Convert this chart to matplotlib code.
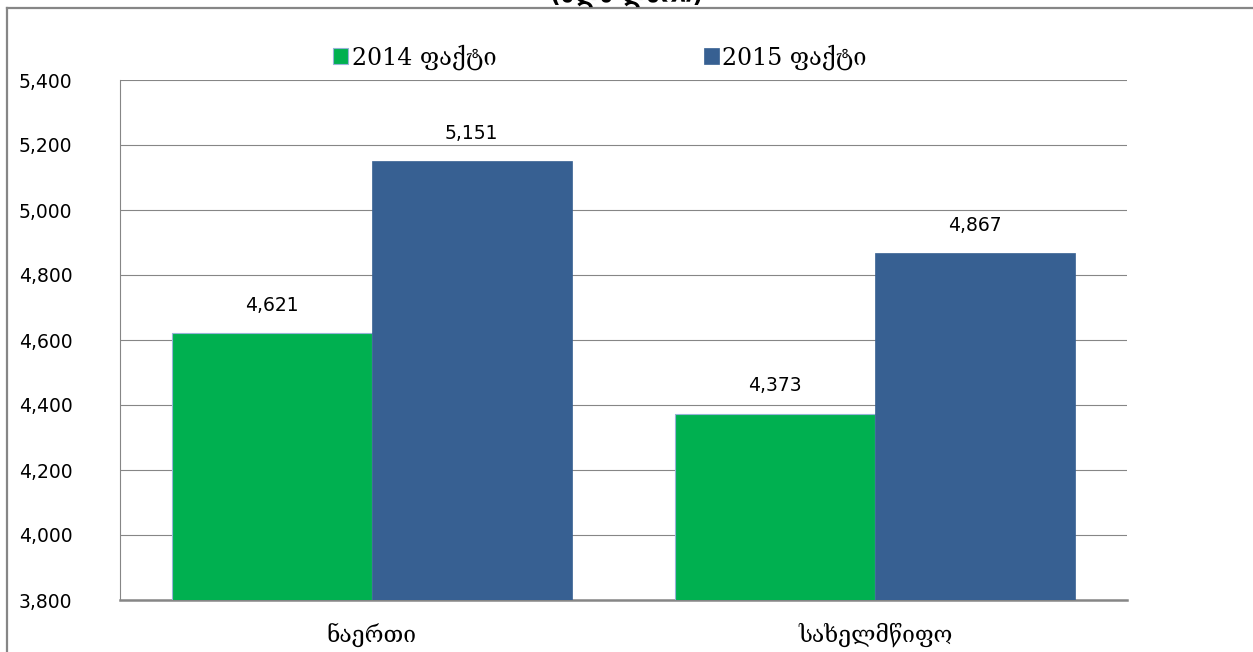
import matplotlib
matplotlib.use("Agg")
import matplotlib.pyplot as plt
from matplotlib.lines import Line2D
import numpy as np

categories = ["ნაერთი", "სახელმწიფო"]
series_names = ["2014 ფაქტი", "2015 ფაქტი"]
values_2014 = [4621, 4373]
values_2015 = [5151, 4867]
yticks = [3800, 4000, 4200, 4400, 4600, 4800, 5000, 5200, 5400]
title = "(მლნ ლარი)"

green = "#00B050"
blue = "#376092"
gray = "#868686"

W, H = 1253, 652
fig = plt.figure(figsize=(W / 100, H / 100), dpi=100)
ax = fig.add_axes([120 / W, 1 - 600 / H, (1127 - 120) / W, (600 - 80) / H])

x = np.arange(len(categories))
bw = 0.397
b1 = ax.bar(x - bw / 2, values_2014, bw, color=green, edgecolor="#95B3D7", linewidth=0.8,
            label=series_names[0], zorder=3)
b2 = ax.bar(x + bw / 2, values_2015, bw, color=blue, edgecolor=blue, linewidth=0.5,
            label=series_names[1], zorder=3)

for bars, vals in ((b1, values_2014), (b2, values_2015)):
    for r, v in zip(bars, vals):
        ax.annotate(f"{v:,}", (r.get_x() + r.get_width() / 2, v), xytext=(0, 20),
                    textcoords="offset points", ha="center", va="center",
                    fontsize=13.5, family="DejaVu Sans", color="black")

ax.set_xlim(-0.5, 1.5)
ax.set_ylim(3800, 5400)
ax.set_yticks(yticks)
ax.set_yticklabels([f"{t:,}" for t in yticks], fontsize=13.5, family="DejaVu Sans")
ax.set_xticks(x)
ax.set_xticklabels(categories, fontsize=16.5, family="DejaVu Serif")
ax.tick_params(axis="y", length=0, pad=73)
ax.tick_params(axis="x", length=0, pad=16)
for lbl in ax.get_yticklabels():
    lbl.set_horizontalalignment("left")

ax.grid(axis="y", color=gray, linewidth=0.8, zorder=0)
for s in ["top", "right"]:
    ax.spines[s].set_visible(False)
ax.spines["left"].set_color(gray)
ax.spines["left"].set_linewidth(0.8)
ax.spines["bottom"].set_color(gray)
ax.spines["bottom"].set_linewidth(1.8)

leg = fig.legend(handles=[b1, b2], labels=series_names, loc="center",
                 bbox_to_anchor=(600 / W, 1 - 57 / H), ncol=2, frameon=False,
                 prop={"family": "DejaVu Serif", "size": 17}, handlelength=0.62,
                 handleheight=0.62, handletextpad=0.15, columnspacing=8.8)

# outer chart border (top and left visible)
fig.add_artist(Line2D([7 / W, 1.02], [1 - 8 / H, 1 - 8 / H], transform=fig.transFigure,
                      color=gray, linewidth=1.6))
fig.add_artist(Line2D([7 / W, 7 / W], [-0.02, 1 - 8 / H], transform=fig.transFigure,
                      color=gray, linewidth=1.6))

# title, mostly above the canvas (cut off in the original)
fig.text(627 / W, 1 - 7 / H, title, ha="center", va="bottom", fontsize=17,
         fontweight="bold", family="DejaVu Sans")

fig.savefig("out.png", dpi=100)
